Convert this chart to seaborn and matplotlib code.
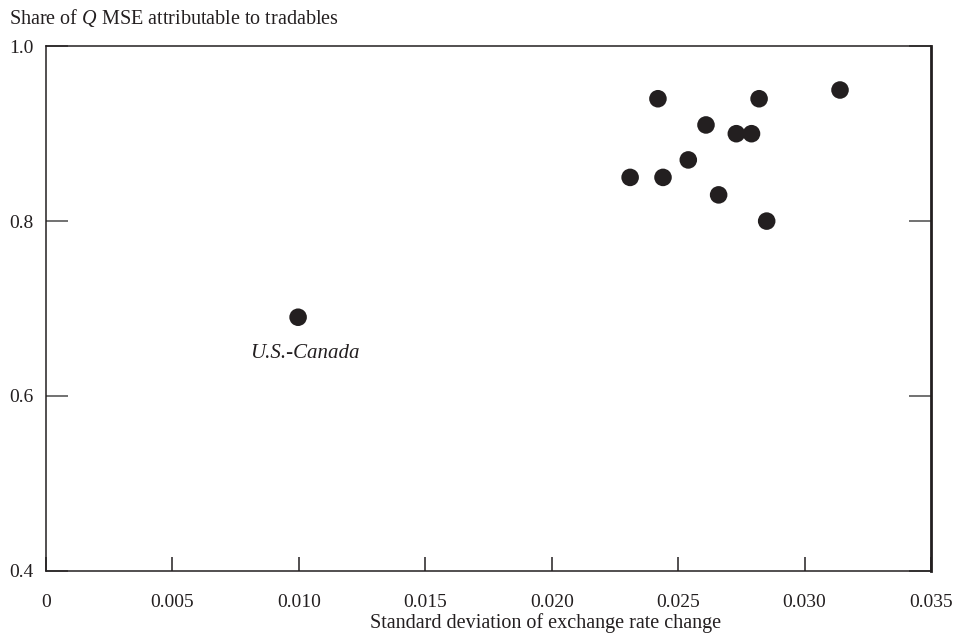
import matplotlib
matplotlib.use("Agg")
import matplotlib.pyplot as plt
import seaborn as sns
import pandas as pd

# exchange rate volatility vs. share of Q MSE from tradables
sd_change = [0.00997, 0.0231, 0.0242, 0.0244, 0.0254, 0.0261, 0.0266,
             0.0273, 0.0279, 0.0282, 0.0285, 0.0314]
share_tradables = [0.69, 0.85, 0.94, 0.85, 0.87, 0.91, 0.83,
                   0.90, 0.90, 0.94, 0.80, 0.95]
label_pair = "U.S.-Canada"

x_ticks = [0, 0.005, 0.010, 0.015, 0.020, 0.025, 0.030, 0.035]
x_ticklabels = ["0", "0.005", "0.010", "0.015", "0.020", "0.025", "0.030", "0.035"]
y_ticks = [0.4, 0.6, 0.8, 1.0]
y_ticklabels = ["0.4", "0.6", "0.8", "1.0"]

df = pd.DataFrame({"sd": sd_change, "share": share_tradables})

sns.set_style("white")
plt.rcParams["font.family"] = ["Liberation Serif", "DejaVu Serif"]
plt.rcParams["mathtext.fontset"] = "custom"
plt.rcParams["mathtext.it"] = "Liberation Serif:italic"
plt.rcParams["mathtext.rm"] = "Liberation Serif"

INK = "#231f20"

fig = plt.figure(figsize=(9.56, 6.36), dpi=100)
ax = fig.add_axes([0.0481, 0.1027, 0.9258, 0.8245])

sns.scatterplot(data=df, x="sd", y="share", ax=ax, color=INK, s=160,
                edgecolor="none", legend=False)

ax.annotate(label_pair, (sd_change[0], share_tradables[0]), xytext=(5, -26),
            textcoords="offset points", ha="center", va="center",
            fontsize=15, style="italic", color=INK)

ax.set_xlim(0, 0.035)
ax.set_ylim(0.4, 1.0)
ax.set_xticks(x_ticks)
ax.set_xticklabels(x_ticklabels)
ax.set_yticks(y_ticks)
ax.set_yticklabels(y_ticklabels)

ax.tick_params(axis="x", direction="in", length=10, width=1.1, color=INK,
               bottom=True, top=False, pad=17, labelsize=14, labelcolor=INK)
ax.tick_params(axis="y", direction="in", length=16, width=1.3, color="#666666",
               left=True, right=True, pad=9, labelsize=14, labelcolor=INK)

for side in ["left", "bottom", "top"]:
    ax.spines[side].set_linewidth(1.1)
    ax.spines[side].set_color(INK)
ax.spines["right"].set_linewidth(2.0)
ax.spines["right"].set_color(INK)

ax.set_xlabel("Standard deviation of exchange rate change", fontsize=14.5,
              color=INK)
ax.xaxis.set_label_coords(0.564, -0.081)
ax.set_ylabel("")
fig.text(0.009, 0.972, "Share of $Q$ MSE attributable to tradables",
         fontsize=14.5, color=INK, ha="left", va="center")

fig.savefig("out.png", dpi=100)
